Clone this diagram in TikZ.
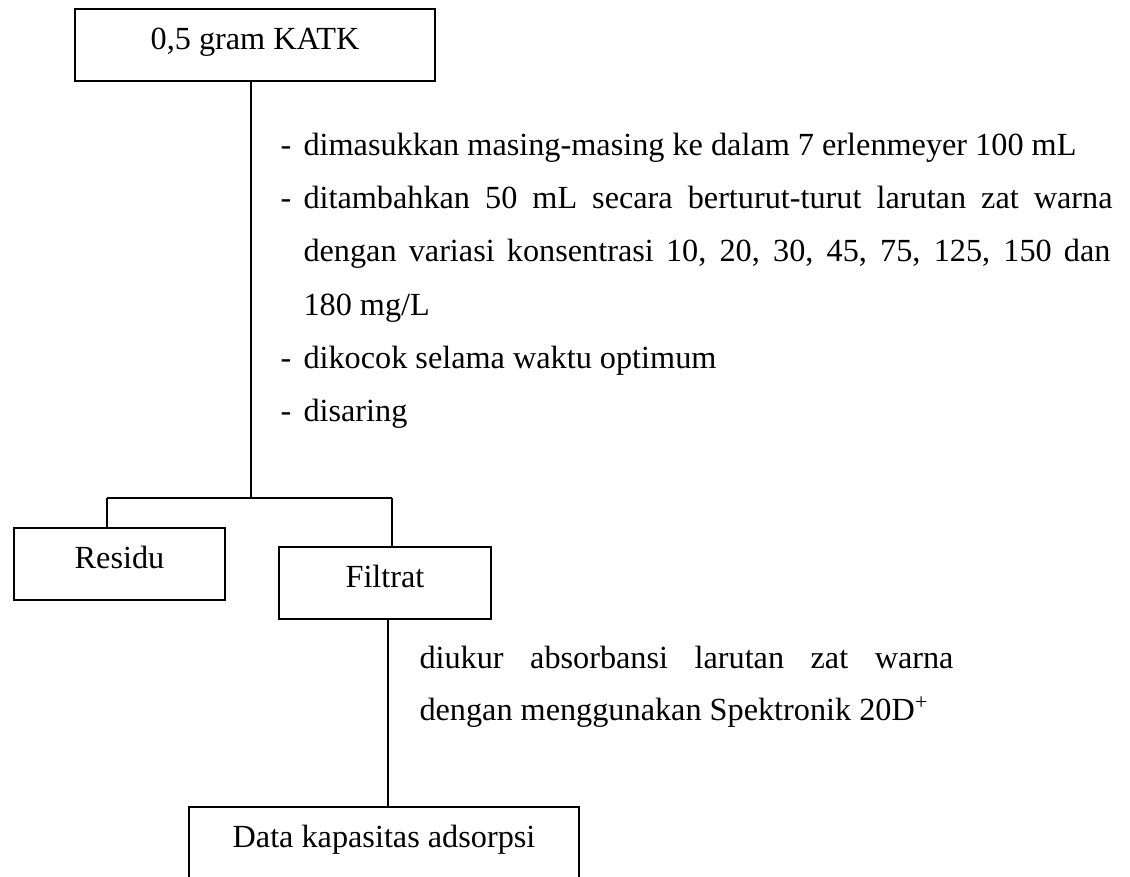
\documentclass[tikz,border=0pt]{standalone}
\usepackage{fontspec}
\setmainfont{Liberation Serif}
\begin{document}
\begin{tikzpicture}[x=0.4pt,y=-0.4pt,
  every node/.style={font=\fontsize{12.9}{15.5}\selectfont},
  box/.style={draw, line width=0.8pt, inner sep=0pt, anchor=north west,
    text height=8.5pt, text depth=5.3pt, minimum height=72*0.4pt},
  txt/.style={anchor=base west, inner sep=0pt},
  conn/.style={line width=0.8pt}]
\useasboundingbox (0,0) rectangle (1130,876);
\clip (0,0) rectangle (1130,876);
% boxes
\node[box, minimum width=360*0.4pt] (top) at (74,8) {0,5 gram KATK};
\node[box, minimum width=211*0.4pt] (residu) at (13,527) {Residu};
\node[box, minimum width=212*0.4pt] (filtrat) at (278,546) {Filtrat};
\node[box, minimum width=390*0.4pt] (data) at (188,806) {Data kapasitas adsorpsi};
% junctions
\coordinate (j) at (251,498);
\coordinate (jl) at (107,498);
\coordinate (jr) at (392,498);
\coordinate (k) at (388,700);
% connectors
\draw[conn] (top.south -| j) -- (j);
\draw[conn] (jl) -- (jr);
\draw[conn] (jl) -- (jl |- residu.north);
\draw[conn] (jr) -- (jr |- filtrat.north);
\draw[conn] (k |- filtrat.south) -- (k |- data.north);
% step texts
\node[txt] (d1) at (280,155) {-};
\node[txt] (t1) at (303,155) {dimasukkan masing-masing ke dalam 7 erlenmeyer 100 mL};
\node[txt] (d2) at (280,208.3) {-};
\node[txt] (t2) at (303,208.3) {\makebox[323.6pt][s]{ditambahkan 50 mL secara berturut-turut larutan zat warna}};
\node[txt] (t3) at (303,261.7) {\makebox[322.8pt][s]{dengan variasi konsentrasi 10, 20, 30, 45, 75, 125, 150 dan}};
\node[txt] (t4) at (303,315) {180 mg/L};
\node[txt] (d5) at (280,368.3) {-};
\node[txt] (t5) at (303,368.3) {dikocok selama waktu optimum};
\node[txt] (d6) at (280,421.7) {-};
\node[txt] (t6) at (303,421.7) {disaring};
\node[txt] (u1) at (419,668) {\makebox[213.6pt][s]{diukur absorbansi larutan zat warna}};
\node[txt] (u2) at (419,720) {dengan menggunakan Spektronik 20D\textsuperscript{+}};
\end{tikzpicture}
\end{document}
